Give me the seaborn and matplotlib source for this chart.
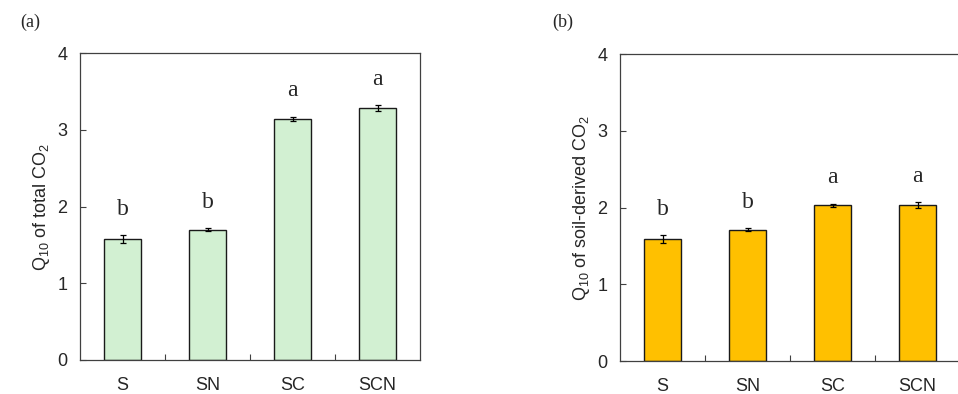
import pandas as pd
import matplotlib
matplotlib.use("Agg")
import matplotlib.pyplot as plt
import seaborn as sns

sns.set_style("ticks")
plt.rcParams['font.family'] = ['Liberation Sans', 'DejaVu Sans']
plt.rcParams['mathtext.fontset'] = 'custom'
plt.rcParams['mathtext.rm'] = 'Liberation Sans'
plt.rcParams['mathtext.it'] = 'Liberation Sans:italic'

treatments = ['S', 'SN', 'SC', 'SCN']
q10_total = [1.58, 1.70, 3.14, 3.28]
q10_total_err = [0.05, 0.02, 0.03, 0.04]
q10_soil = [1.59, 1.71, 2.03, 2.03]
q10_soil_err = [0.05, 0.02, 0.02, 0.04]
letters_total = ['b', 'b', 'a', 'a']
letters_soil = ['b', 'b', 'a', 'a']

fig = plt.figure(figsize=(9.58, 3.94), dpi=100)
ax1 = fig.add_axes([80/958, 34/394, 340/958, 307/394])
ax2 = fig.add_axes([620/958, 33/394, 340/958, 307/394])

panels = [
    (ax1, q10_total, q10_total_err, letters_total, '#d2f0d2',
     r'$\mathregular{Q_{10}}$ of total CO$\mathregular{_2}$', '(a)', 30),
    (ax2, q10_soil, q10_soil_err, letters_soil, '#ffc000',
     r'$\mathregular{Q_{10}}$ of soil-derived CO$\mathregular{_2}$', '(b)', 563),
]

for ax, vals, errs, lets, col, ylab, tag, tagx in panels:
    df = pd.DataFrame({'treatment': treatments, 'q10': vals})
    sns.barplot(data=df, x='treatment', y='q10', color=col, width=0.43,
                edgecolor='#1a1a1a', linewidth=1.0, errorbar=None,
                saturation=1, ax=ax)
    ax.errorbar(range(len(vals)), vals, yerr=errs, fmt='none',
                ecolor='black', elinewidth=0.9, capsize=2.5, capthick=0.9)
    for i, (v, e, l) in enumerate(zip(vals, errs, lets)):
        ax.text(i, v + e + 0.2, l, ha='center', va='bottom',
                family=['Liberation Serif'], fontsize=17)
    ax.set_xlim(-0.5, 3.5)
    ax.set_ylim(0, 4)
    ax.set_yticks([0, 1, 2, 3, 4])
    ax.set_xlabel('')
    ax.set_ylabel(ylab, fontsize=13, labelpad=4)
    ax.set_xticks([0.5, 1.5, 2.5], minor=True)
    ax.tick_params(axis='x', which='major', length=0, pad=12, labelsize=13)
    ax.tick_params(axis='x', which='minor', direction='in', length=4,
                   width=0.8, color='#404040')
    ax.tick_params(axis='y', direction='in', length=4, width=0.8,
                   color='#404040', pad=9, labelsize=13)
    for s in ax.spines.values():
        s.set_visible(True)
        s.set_linewidth(0.9)
        s.set_color('#404040')
    fig.text(tagx/958, 1 - 22/394, tag, ha='center', va='center',
             family=['Liberation Serif'], fontsize=13)

fig.savefig('out.png', dpi=100)
